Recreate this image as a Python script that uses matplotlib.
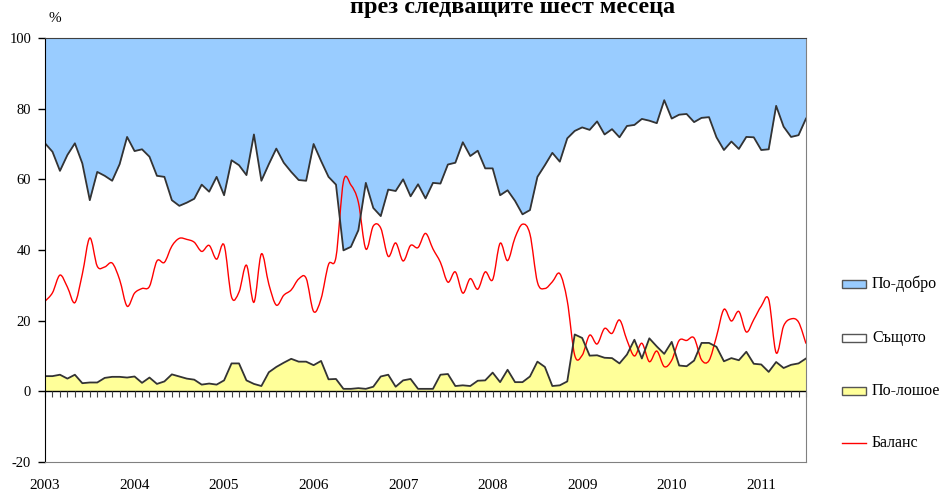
import matplotlib
matplotlib.use("Agg")
import matplotlib.pyplot as plt
import numpy as np
from matplotlib.path import Path
from matplotlib.patches import PathPatch, Rectangle
from matplotlib.lines import Line2D

# monthly data, Jan 2003 .. Jul 2011
years = ["2003", "2004", "2005", "2006", "2007", "2008", "2009", "2010", "2011"]

better = [29.8, 32.2, 37.6, 33.1, 29.8, 35.5, 45.9, 37.9, 39.0, 40.4, 35.7, 28.0,
          32.0, 31.5, 33.6, 39.0, 39.3, 45.9, 47.5, 46.6, 45.5, 41.5, 43.5, 39.3,
          44.5, 34.6, 36.0, 38.8, 27.3, 40.4, 35.7, 31.3, 35.3, 37.9, 40.2, 40.4,
          30.0, 34.8, 39.3, 41.5, 60.1, 59.1, 54.4, 41.0, 48.1, 50.4, 42.9, 43.3,
          40.0, 44.8, 41.4, 45.4, 41.0, 41.2, 35.8, 35.3, 29.5, 33.4, 31.9, 36.9,
          36.9, 44.5, 43.1, 46.1, 49.9, 48.7, 39.3, 36.0, 32.5, 35.0, 28.4, 26.3,
          25.3, 26.0, 23.6, 27.3, 25.8, 28.1, 24.9, 24.6, 22.9, 23.4, 24.1, 17.6,
          22.8, 21.7, 21.5, 23.8, 22.6, 22.4, 28.1, 31.7, 29.3, 31.4, 28.0, 28.1,
          31.7, 31.5, 19.2, 25.1, 28.0, 27.5, 22.8]

worse = [4.3, 4.3, 4.7, 3.6, 4.7, 2.3, 2.5, 2.5, 3.8, 4.1, 4.1, 3.9,
         4.2, 2.4, 3.9, 2.1, 2.8, 4.8, 4.2, 3.6, 3.3, 1.9, 2.2, 1.9,
         3.1, 7.9, 7.9, 3.1, 2.1, 1.5, 5.4, 6.9, 8.1, 9.2, 8.4, 8.4,
         7.4, 8.6, 3.4, 3.5, 0.7, 0.7, 0.9, 0.7, 1.3, 4.2, 4.7, 1.3,
         3.1, 3.5, 0.7, 0.7, 0.7, 4.7, 4.9, 1.5, 1.7, 1.5, 3.0, 3.1,
         5.3, 2.6, 6.1, 2.6, 2.6, 4.2, 8.4, 6.9, 1.5, 1.7, 2.8, 16.1,
         15.1, 10.1, 10.2, 9.5, 9.4, 7.9, 10.4, 14.6, 9.3, 15.0, 12.7, 10.6,
         14.0, 7.3, 7.1, 8.7, 13.7, 13.7, 12.6, 8.5, 9.4, 8.8, 11.2, 7.8,
         7.6, 5.5, 8.3, 6.6, 7.5, 7.9, 9.3]

balance = [25.5, 27.9, 32.9, 29.5, 25.1, 33.2, 43.4, 35.4, 35.2, 36.3, 31.6, 24.1,
           27.8, 29.1, 29.7, 36.9, 36.5, 41.1, 43.3, 43.0, 42.2, 39.6, 41.3, 37.4,
           41.4, 26.7, 28.1, 35.7, 25.2, 38.9, 30.3, 24.4, 27.2, 28.7, 31.8, 32.0,
           22.6, 26.2, 35.9, 38.0, 59.4, 58.4, 53.5, 40.3, 46.8, 46.2, 38.2, 42.0,
           36.9, 41.3, 40.7, 44.7, 40.3, 36.5, 30.9, 33.8, 27.8, 31.9, 28.9, 33.8,
           31.6, 41.9, 37.0, 43.5, 47.3, 44.5, 30.9, 29.1, 31.0, 33.3, 25.6, 10.2,
           10.2, 15.9, 13.4, 17.8, 16.4, 20.2, 14.5, 10.0, 13.6, 8.4, 11.4, 7.0,
           8.8, 14.4, 14.4, 15.1, 8.9, 8.7, 15.5, 23.2, 19.9, 22.6, 16.8, 20.3,
           24.1, 26.0, 10.9, 18.5, 20.5, 19.6, 13.5]

labels = ["По-добро", "Същото", "По-лошое", "Баланс"]
title = "през следващите шест месеца"

C_BETTER = "#99CCFF"
C_WORSE = "#FFFF99"
C_LINE = "#333333"
C_BAL = "#FF0000"


def smooth_path(xs, ys):
    # Excel-like smoothed line: Bezier segments with Catmull-Rom control points
    n = len(xs)
    verts = [(xs[0], ys[0])]
    codes = [Path.MOVETO]
    for i in range(n - 1):
        x0, y0 = (xs[i - 1], ys[i - 1]) if i > 0 else (xs[i], ys[i])
        x1, y1 = xs[i], ys[i]
        x2, y2 = xs[i + 1], ys[i + 1]
        x3, y3 = (xs[i + 2], ys[i + 2]) if i + 2 < n else (x2, y2)
        verts += [(x1 + (x2 - x0) / 6, y1 + (y2 - y0) / 6),
                  (x2 - (x3 - x1) / 6, y2 - (y3 - y1) / 6),
                  (x2, y2)]
        codes += [Path.CURVE4] * 3
    return Path(verts, codes)


plt.rcParams["font.family"] = ["Liberation Serif", "DejaVu Serif"]
plt.rcParams["axes.unicode_minus"] = False

x = np.arange(len(better))
top = 100 - np.array(better)

fig = plt.figure(figsize=(9.46, 4.93), dpi=100)
ax = fig.add_axes([0.0476, 0.0629, 0.8044, 0.8600])

ax.fill_between(x, top, 100, color=C_BETTER, lw=0)
ax.fill_between(x, 0, worse, color=C_WORSE, lw=0)
ax.plot(x, top, color=C_LINE, lw=1.3)
ax.plot(x, worse, color=C_LINE, lw=1.3)
ax.axhline(0, color="black", lw=1.0)
ax.plot(x, np.zeros(len(x)), ls="none", marker=matplotlib.markers.TICKDOWN,
        ms=4, mew=0.8, color="#444444", clip_on=False)
ax.add_patch(PathPatch(smooth_path(x, balance), fill=False, edgecolor=C_BAL, lw=1.0))

ax.set_xlim(0, len(x) - 1)
ax.set_ylim(-20, 100)
ax.set_yticks(range(-20, 101, 20))
ax.tick_params(axis="y", direction="out", length=5, width=1, pad=5, labelsize=10.5)
ax.set_xticks(x[::12])
ax.set_xticklabels(years)
ax.tick_params(axis="x", length=0, pad=12, labelsize=11)

for side in ("top", "right", "bottom"):
    ax.spines[side].set_color("#808080")
ax.spines["top"].set_color("#404040")
ax.spines["left"].set_color("black")

fig.text(55 / 946, 1 - 19 / 493, "%", ha="center", va="center", fontsize=11)
fig.text(512.5 / 946, 1 - 13 / 493, title, ha="center", va="baseline",
         fontsize=17.5, fontweight="bold")

# legend, drawn by hand
W, H = 946, 493
legend_y = [284, 338, 391, 443]
fills = [C_BETTER, "white", C_WORSE]
for yy, lab, fc in zip(legend_y[:3], labels[:3], fills):
    fig.add_artist(Rectangle((842 / W, 1 - (yy + 4) / H), 24 / W, 8 / H,
                             transform=fig.transFigure, facecolor=fc,
                             edgecolor="#555555", lw=1))
    fig.text(872 / W, 1 - yy / H, lab, va="center", ha="left", fontsize=11.5)
fig.add_artist(Line2D([842 / W, 866 / W], [1 - legend_y[3] / H] * 2,
                      transform=fig.transFigure, color=C_BAL, lw=1))
fig.text(872 / W, 1 - legend_y[3] / H, labels[3], va="center", ha="left", fontsize=11.5)

fig.savefig("out.png", dpi=100)
